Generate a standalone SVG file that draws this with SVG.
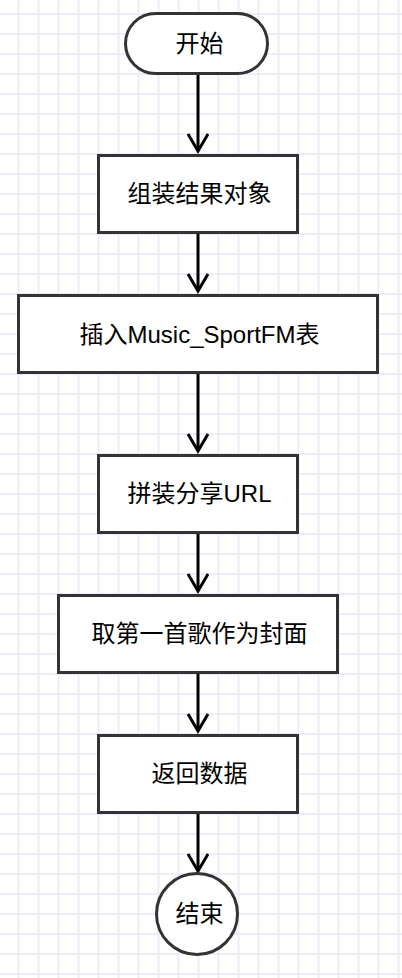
<svg xmlns="http://www.w3.org/2000/svg" width="402" height="978" viewBox="0 0 402 978">
  <style>
    .node { fill: #ffffff; stroke: #333333; stroke-width: 3; }
    .label { font-family: 'Liberation Sans', 'Noto Sans CJK SC', sans-serif; font-size: 24px; fill: #000000; text-anchor: middle; }
    .edge { stroke: #000000; stroke-width: 3; fill: none; marker-end: url(#arrow); }
  </style>
  <defs>
    <pattern id="grid" patternUnits="userSpaceOnUse" x="17.5" y="13" width="20" height="20">
      <rect x="0" y="0" width="20" height="20" fill="#ffffff"/>
      <rect x="0" y="0" width="2" height="20" fill="#ececfb"/>
      <rect x="0" y="0" width="20" height="2" fill="#ececfb"/>
    </pattern>
    <marker id="arrow" markerUnits="userSpaceOnUse" markerWidth="30" markerHeight="30" refX="0" refY="0" orient="auto" overflow="visible">
      <path d="M-17,-10 L0,0 L-17,10" fill="none" stroke="#000000" stroke-width="3"/>
    </marker>
  </defs>
  <rect x="0" y="0" width="402" height="978" fill="url(#grid)"/>

  <g id="connectors">
    <line class="edge" x1="198" y1="75" x2="198" y2="151"/>
    <line class="edge" x1="198" y1="234" x2="198" y2="291"/>
    <line class="edge" x1="198" y1="374" x2="198" y2="451"/>
    <line class="edge" x1="198" y1="534" x2="198" y2="591"/>
    <line class="edge" x1="198" y1="674" x2="198" y2="731"/>
    <line class="edge" x1="198" y1="814" x2="198" y2="871"/>
  </g>

  <g id="start">
    <rect class="node" x="125.5" y="13.5" width="142" height="60" rx="30" ry="30"/>
    <text class="label" x="199.5" y="52">开始</text>
  </g>
  <g id="assemble">
    <rect class="node" x="98.5" y="155.5" width="199" height="77"/>
    <text class="label" x="199.5" y="201.5">组装结果对象</text>
  </g>
  <g id="insert">
    <rect class="node" x="18.5" y="295.5" width="359" height="77"/>
    <text class="label" x="199.5" y="343">插入Music_SportFM表</text>
  </g>
  <g id="share">
    <rect class="node" x="98.5" y="455.5" width="199" height="77"/>
    <text class="label" x="199.5" y="501.5">拼装分享URL</text>
  </g>
  <g id="cover">
    <rect class="node" x="58.5" y="595.5" width="279" height="77"/>
    <text class="label" x="199.5" y="642">取第一首歌作为封面</text>
  </g>
  <g id="return">
    <rect class="node" x="98.5" y="735.5" width="199" height="77"/>
    <text class="label" x="199.5" y="781.5">返回数据</text>
  </g>
  <g id="end">
    <circle class="node" cx="197" cy="914" r="40.5"/>
    <text class="label" x="199.5" y="921.5">结束</text>
  </g>
</svg>
